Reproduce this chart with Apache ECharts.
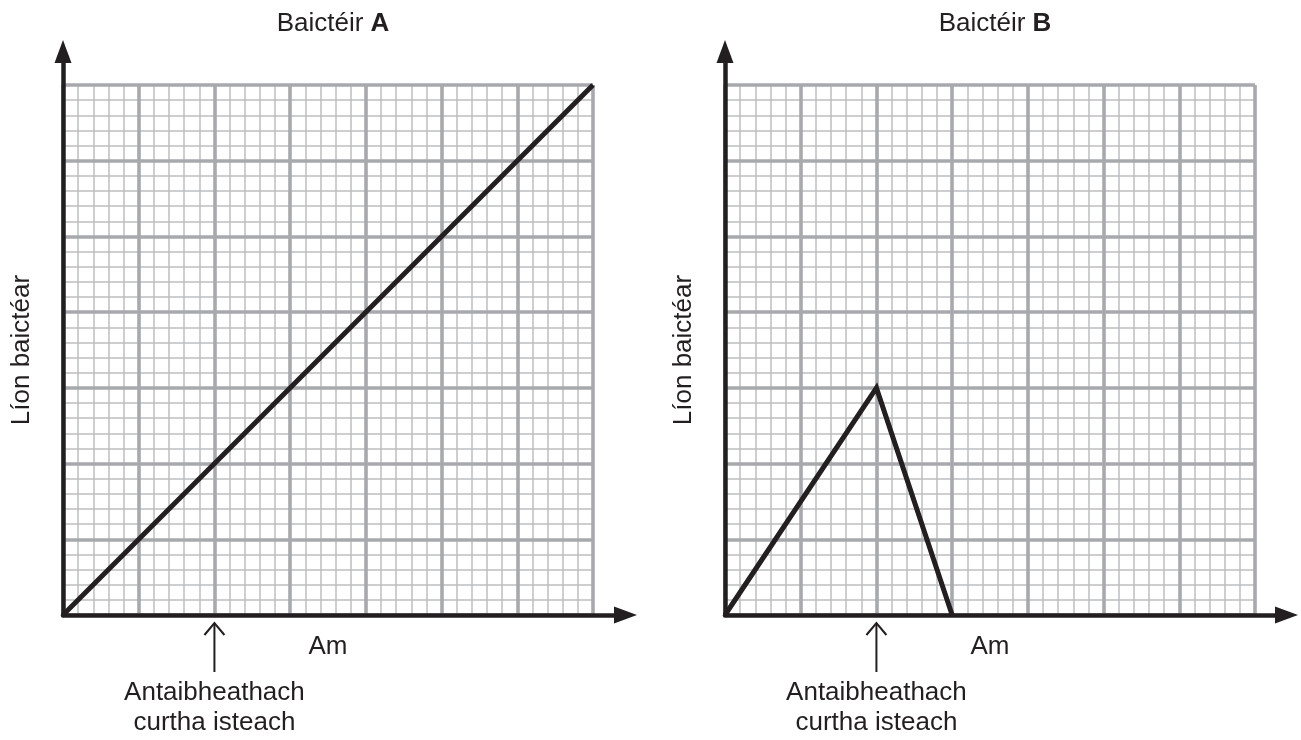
<!doctype html>
<html>
<head>
<meta charset="UTF-8">
<title>Baictéir A / B</title>
<script src="https://cdn.jsdelivr.net/npm/echarts@6/dist/echarts.min.js"></script>
<style>
  html, body { margin: 0; padding: 0; background: #fff; }
</style>
</head>
<body>
<div id="main" style="width:1301px;height:740px;"></div>
<script>
    // graph paper: 7 big squares each way, 5 small squares in each
    var axisMax = 7;
    var minorPerCell = 5;

    // the two panels
    var panelNames = ['A', 'B'];
    var timeA = [0, 7];
    var countA = [0, 7];
    var timeB = [0, 2, 3];
    var countB = [0, 3, 0];
    var antibioticAt = [2, 2];

    var xTitle = 'Am';
    var yTitle = 'Líon baictéar';
    var arrowNote = 'Antaibheathach\ncurtha isteach';

    var ink = '#231f20';
    var font = 'Liberation Sans, Arial, Helvetica, sans-serif';
    var fontSize = 26;

    var panelLeft = [63, 725];
    var paperTop = 85, paperSize = 530;
    var arrowTop = 51.5;
    var arrowWidth = [562.5, 561.5];

    var grid = [], xAxis = [], yAxis = [], series = [], titles = [];
    var lines = [[timeA, countA], [timeB, countB]];

    function hidden(extra) {
        return Object.assign({
            axisLine: { show: false },
            axisTick: { show: false },
            axisLabel: { show: false },
            splitLine: { show: false }
        }, extra);
    }

    panelNames.forEach(function (name, i) {
        var g = i * 3;
        // 0: small squares, 1: big squares + data, 2: black axes with arrows
        grid.push({ left: panelLeft[i], top: paperTop, width: paperSize, height: paperSize });
        grid.push({ left: panelLeft[i], top: paperTop, width: paperSize, height: paperSize });
        grid.push({ left: panelLeft[i], top: arrowTop, width: arrowWidth[i], height: paperTop + paperSize - arrowTop });

        var minor = {
            type: 'value', min: 0, max: axisMax, interval: 1, z: 0,
            minorTick: { show: false, splitNumber: minorPerCell },
            minorSplitLine: { show: true, lineStyle: { color: '#bcbec0', width: 1.5 } }
        };
        xAxis.push(hidden(Object.assign({ gridIndex: g }, minor)));
        yAxis.push(hidden(Object.assign({ gridIndex: g }, minor)));

        var major = {
            type: 'value', min: 0, max: axisMax, interval: 1, z: 1,
            splitLine: { show: true, lineStyle: { color: '#a7a9ac', width: 3.6 } },
            nameLocation: 'middle',
            nameTextStyle: { color: ink, fontFamily: font, fontSize: fontSize }
        };
        var mx = hidden({ gridIndex: g + 1 });
        Object.assign(mx, major, { name: xTitle, nameGap: 19 });
        var my = hidden({ gridIndex: g + 1 });
        Object.assign(my, major, { name: yTitle, nameGap: 28, nameRotate: 90 });
        xAxis.push(mx);
        yAxis.push(my);

        var arrowLine = {
            show: true, onZero: false,
            symbol: ['none', 'triangle'], symbolSize: [17, 23],
            lineStyle: { color: ink, width: 4.5 }
        };
        xAxis.push(hidden({ gridIndex: g + 2, type: 'value', min: 0, max: 1, z: 3 }));
        yAxis.push(hidden({ gridIndex: g + 2, type: 'value', min: 0, max: 1, z: 3 }));
        xAxis[xAxis.length - 1].axisLine = arrowLine;
        yAxis[yAxis.length - 1].axisLine = arrowLine;

        var xs = lines[i][0], ys = lines[i][1];
        series.push({
            type: 'line',
            xAxisIndex: g + 1, yAxisIndex: g + 1,
            data: xs.map(function (x, k) { return [x, ys[k]]; }),
            symbol: 'none',
            z: 2,
            lineStyle: { color: ink, width: 5, join: 'miter', cap: 'butt' }
        });

        titles.push({
            text: '{n|Baictéir }{b|' + name + '}',
            left: panelLeft[i] + paperSize / 2,
            top: 6,
            textAlign: 'center',
            textStyle: {
                fontWeight: 'normal',
                rich: {
                    n: { fontFamily: font, fontSize: fontSize, color: ink, fontWeight: 'normal' },
                    b: { fontFamily: font, fontSize: fontSize, color: ink, fontWeight: 'bold' }
                }
            }
        });
    });

    var myChart = echarts.init(document.getElementById('main'));
    myChart.setOption({
        animation: false,
        title: titles,
        grid: grid,
        xAxis: xAxis,
        yAxis: yAxis,
        series: series
    });

    // "antibiotic added" marker under each time axis
    var graphic = [];
    panelNames.forEach(function (name, i) {
        var p = myChart.convertToPixel({ gridIndex: i * 3 + 1 }, [antibioticAt[i], 0]);
        var x = p[0], top = p[1] + 8, bottom = p[1] + 57;
        graphic.push({
            type: 'polyline',
            shape: { points: [[x, bottom], [x, top]] },
            style: { stroke: ink, lineWidth: 2, fill: null }
        });
        graphic.push({
            type: 'polyline',
            shape: { points: [[x - 10, top + 12], [x, top], [x + 10, top + 12]] },
            style: { stroke: ink, lineWidth: 2, fill: null }
        });
        graphic.push({
            type: 'text',
            x: x, y: p[1] + 63,
            style: {
                text: arrowNote,
                fill: ink,
                font: fontSize + 'px ' + font,
                lineHeight: 30,
                align: 'center',
                verticalAlign: 'top'
            }
        });
    });
    myChart.setOption({ graphic: graphic });
</script>
</body>
</html>
